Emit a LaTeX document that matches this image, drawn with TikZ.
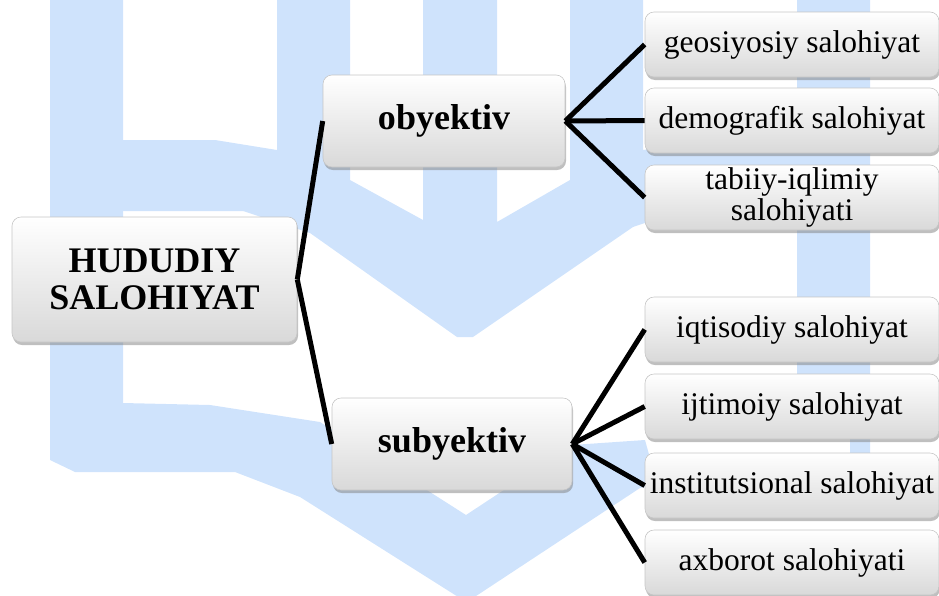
\documentclass[tikz,border=0pt]{standalone}
\usepackage{fontspec}
\setmainfont{Liberation Serif}
\usetikzlibrary{shadows}
\definecolor{wmblue}{RGB}{207,227,252}
\tikzset{
  box/.style={rounded corners=9pt, draw=gray!45, line width=0.6pt,
    top color=white, bottom color=gray!30, inner sep=0pt, align=center,
    drop shadow={shadow xshift=1pt, shadow yshift=-3pt, opacity=0.5}},
  mainbox/.style={box, font=\fontsize{36}{37}\selectfont\bfseries},
  subbox/.style={box, minimum width=294pt, minimum height=65pt,
    font=\fontsize{31.5}{31}\selectfont},
  link/.style={line width=5pt}
}
\begin{document}
\begin{tikzpicture}[x=1pt,y=-1pt]
    \useasboundingbox (0,0) rectangle (939,595);

    \begin{scope}
        \clip (0,0) rectangle (939,595);
        \fill[wmblue] (50,0) -- (50,460) -- (75,472) -- (235,472) -- (300,497)
            -- (463,600) -- (470,600) -- (640,488) -- (700,475) -- (870,470)
            -- (870,0) -- (797,0) -- (797,436) -- (850,436) -- (850,458)
            -- (650,458) -- (645,440) -- (572,445) -- (466,515) -- (320,422)
            -- (210,405) -- (123,403) -- (123,0) -- cycle;
        \fill[wmblue] (123,140) -- (215,140) -- (277,150) -- (277,0) -- (350,0)
            -- (350,180) -- (423,220) -- (423,0) -- (497,0) -- (497,222)
            -- (570,180) -- (570,0) -- (643,0) -- (643,150) -- (705,140)
            -- (797,140) -- (797,211) -- (680,211) -- (633,227) -- (473,337)
            -- (457,337) -- (310,233) -- (243,211) -- (123,211) -- cycle;
    \end{scope}

    \node[mainbox, minimum width=285pt, minimum height=125pt] (hudud) at (154.5,279.5) {HUDUDIY\\SALOHIYAT};
    \node[mainbox, minimum width=242pt, minimum height=92pt] (obyektiv) at (444,121) {obyektiv};
    \node[mainbox, minimum width=240pt, minimum height=92pt] (subyektiv) at (452,444) {subyektiv};

    \node[subbox] (geo) at (792,44.5) {geosiyosiy salohiyat};
    \node[subbox] (demo) at (792,120.5) {demografik salohiyat};
    \node[subbox] (tabiiy) at (792,197.5) {tabiiy-iqlimiy\\salohiyati};

    \node[subbox] (iqt) at (792,329.5) {iqtisodiy salohiyat};
    \node[subbox] (ijt) at (792,406.5) {ijtimoiy salohiyat};
    \node[subbox] (inst) at (792,485.5) {institutsional salohiyat};
    \node[subbox] (axb) at (792,562.5) {axborot salohiyati};

    \draw[link] (hudud.east) -- (obyektiv.west);
    \draw[link] (hudud.east) -- (subyektiv.west);
    \foreach \n in {geo,demo,tabiiy}
        \draw[link] (obyektiv.east) -- (\n.west);
    \foreach \n in {iqt,ijt,inst,axb}
        \draw[link] (subyektiv.east) -- (\n.west);
\end{tikzpicture}
\end{document}
